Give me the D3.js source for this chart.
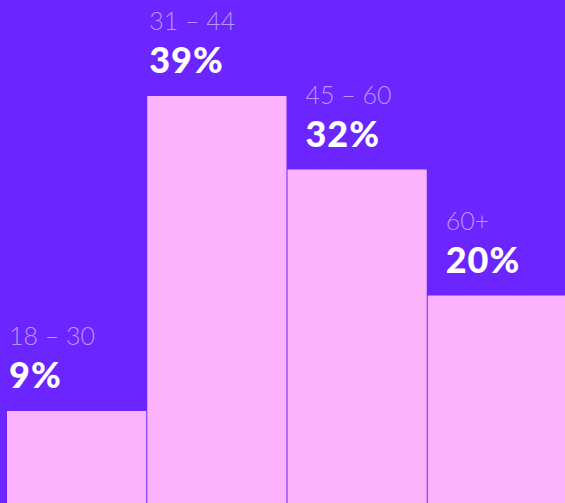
<!DOCTYPE html>
<html>
<head>
<meta charset="utf-8">
<script src="https://cdn.jsdelivr.net/npm/d3@7"></script>
<style>
  html, body { margin: 0; padding: 0; background: #6b25ff; overflow: hidden; }
  svg { display: block; }
</style>
</head>
<body>
<div id="chart"></div>
<script>
// age groups and their share
const ageGroups = ['18 – 30', '31 – 44', '45 – 60', '60+']
const shares = [9, 39, 32, 20]

const width = 565, height = 503

const svg = d3.select('#chart')
  .append('svg')
  .attr('width', width)
  .attr('height', height)

svg.append('rect')
  .attr('width', width)
  .attr('height', height)
  .attr('fill', '#6b25ff')

// x: four equal bands, 1px gap between them
const x = d3.scaleBand().domain(ageGroups).range([7, 567]).paddingInner(0.007)

// y: zero sits just below the bottom edge
const y = d3.scaleLinear().domain([0, 39]).range([505.5, 96])

const data = ageGroups.map((g, i) => ({ group: g, value: shares[i], i: i }))

// labels of the right two bars sit further in
const labelX = d => x(d.group) + (d.i >= 2 ? 18 : 2)

svg.selectAll('rect.bar')
  .data(data)
  .join('rect')
  .attr('class', 'bar')
  .attr('x', d => x(d.group))
  .attr('width', x.bandwidth())
  .attr('y', d => y(d.value))
  .attr('height', d => y(0) - y(d.value))
  .attr('fill', '#fcb3fd')

// range labels
svg.selectAll('text.range')
  .data(data)
  .join('text')
  .attr('class', 'range')
  .attr('x', labelX)
  .attr('y', d => y(d.value) - 66)
  .attr('font-family', 'Lato, sans-serif')
  .attr('font-weight', 300)
  .attr('font-size', 25)
  .attr('fill', '#b995f7')
  .text(d => d.group)

// value labels
svg.selectAll('text.value')
  .data(data)
  .join('text')
  .attr('class', 'value')
  .attr('x', labelX)
  .attr('y', d => y(d.value) - 23)
  .attr('font-family', 'Lato, sans-serif')
  .attr('font-weight', 900)
  .attr('font-size', 36)
  .attr('letter-spacing', 1)
  .attr('fill', '#ffffff')
  .text(d => d.value + '%')
</script>
</body>
</html>
